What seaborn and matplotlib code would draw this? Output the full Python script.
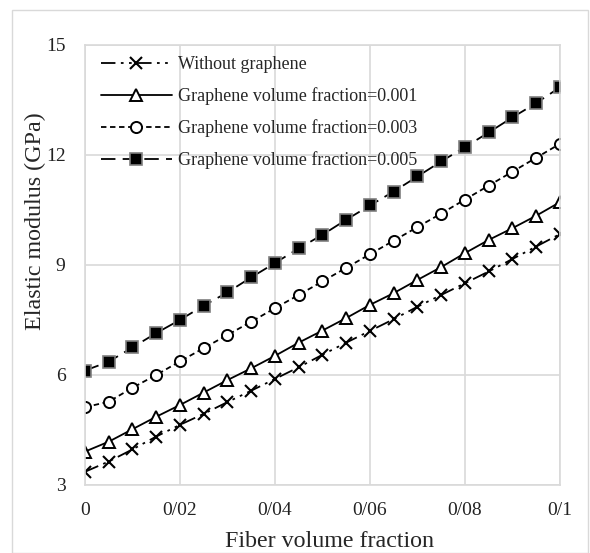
import pandas as pd
import matplotlib.pyplot as plt
import matplotlib.patches as mpatches
import seaborn as sns

# Data
fiber_fraction = [0.0, 0.005, 0.01, 0.015, 0.02, 0.025, 0.03, 0.035, 0.04, 0.045, 0.05,
                  0.055, 0.06, 0.065, 0.07, 0.075, 0.08, 0.085, 0.09, 0.095, 0.1]
without_graphene = [3.36, 3.64, 3.97, 4.32, 4.64, 4.94, 5.26, 5.57, 5.89, 6.21, 6.55,
                    6.88, 7.2, 7.52, 7.86, 8.18, 8.5, 8.82, 9.16, 9.5, 9.84]
graphene_001 = [3.91, 4.18, 4.52, 4.86, 5.18, 5.52, 5.86, 6.18, 6.52, 6.88, 7.21,
                7.55, 7.91, 8.23, 8.59, 8.94, 9.32, 9.68, 10.0, 10.34, 10.71]
graphene_003 = [5.12, 5.27, 5.65, 6.0, 6.37, 6.73, 7.09, 7.45, 7.82, 8.18, 8.55,
                8.92, 9.29, 9.66, 10.03, 10.4, 10.78, 11.16, 11.54, 11.92, 12.3]
graphene_005 = [6.12, 6.36, 6.75, 7.14, 7.5, 7.89, 8.25, 8.66, 9.05, 9.45, 9.82,
                10.23, 10.62, 11.0, 11.41, 11.82, 12.21, 12.61, 13.02, 13.41, 13.84]

labels = ['Without graphene',
          'Graphene volume fraction=0.001',
          'Graphene volume fraction=0.003',
          'Graphene volume fraction=0.005']
x_ticks = [0, 0.02, 0.04, 0.06, 0.08, 0.1]
x_tick_labels = ['0', '0/02', '0/04', '0/06', '0/08', '0/1']
y_ticks = [3, 6, 9, 12, 15]

sns.set_style('white')
plt.rcParams['font.family'] = ['Liberation Serif', 'DejaVu Serif']

fig = plt.figure(figsize=(5.9, 5.53), dpi=100)
ax = fig.add_axes([0.144, 0.123, 0.805, 0.796])

# outer chart border
fig.patches.append(mpatches.Rectangle((12 / 590, 0.0), 576 / 590, 1 - 10 / 553,
                                      transform=fig.transFigure, fill=False,
                                      edgecolor='#d9d9d9', linewidth=1.0))

styles = [
    dict(marker='x', dashes=(8, 3, 1.5, 3, 1.5, 3), markersize=8, mfc='black', mec='black', mew=1.5),
    dict(marker='^', dashes=(), markersize=8, mfc='white', mec='black', mew=1.4),
    dict(marker='o', dashes=(3, 2), markersize=8, mfc='white', mec='black', mew=1.4),
    dict(marker='s', dashes=(8, 4), markersize=8, mfc='black', mec='#7f7f7f', mew=1.2),
]
series = [without_graphene, graphene_001, graphene_003, graphene_005]

for values, label, st in zip(series, labels, styles):
    df = pd.DataFrame({'x': fiber_fraction, 'y': values})
    sns.lineplot(data=df, x='x', y='y', ax=ax, color='black', linewidth=1.3,
                 marker=st['marker'], markersize=st['markersize'],
                 markerfacecolor=st['mfc'], markeredgecolor=st['mec'],
                 markeredgewidth=st['mew'], label=label)
    ln = ax.lines[-1]
    if st['dashes']:
        ln.set_dashes(st['dashes'])

ax.set_xlim(0, 0.1)
ax.set_ylim(3, 15)
ax.set_xticks(x_ticks)
ax.set_xticklabels(x_tick_labels)
ax.set_yticks(y_ticks)
ax.tick_params(axis='both', length=0, labelsize=14, colors='#222222')
ax.tick_params(axis='y', pad=14)
ax.tick_params(axis='x', pad=12)
ax.grid(True, color='#d9d9d9', linewidth=1.2)
for sp in ax.spines.values():
    sp.set_color('#d9d9d9')
    sp.set_linewidth(1.2)

ax.set_xlabel('Fiber volume fraction', fontsize=17.3, labelpad=9)
ax.set_ylabel('Elastic modulus (GPa)', fontsize=17.3, labelpad=0)
ax.xaxis.label.set_x(0.516)
ax.yaxis.label.set_y(0.6)

leg = ax.legend(loc='upper left', bbox_to_anchor=(0.015, 0.995), frameon=False,
                fontsize=13, handlelength=3.9, labelspacing=0.78,
                borderaxespad=0.1, borderpad=0.4, handletextpad=0.35)

fig.savefig('out.png', dpi=100)
